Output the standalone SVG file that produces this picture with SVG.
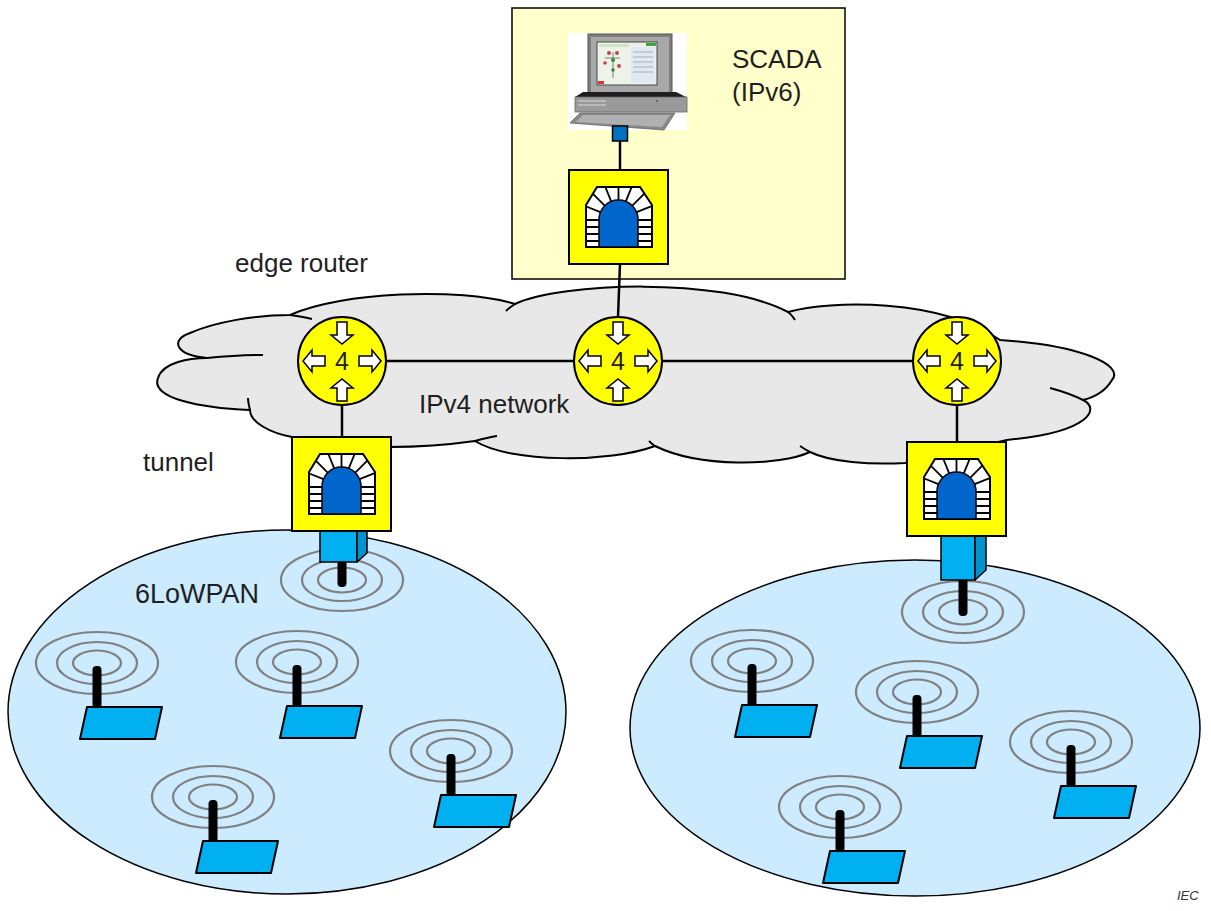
<svg xmlns="http://www.w3.org/2000/svg" width="1211" height="911" viewBox="0 0 1211 911">
  <style>
    .lbl { font-family: "Liberation Sans", Arial, sans-serif; font-size: 26px; fill: #1f1f1f; }
    .wire { stroke: #000; stroke-width: 2.5; fill: none; }
    .ring { fill: none; stroke: #808080; stroke-width: 2.2; }
    .lowpan { fill: #CCEBFF; stroke: #000; stroke-width: 1.5; }
    .crease { fill: none; stroke: #000; stroke-width: 2; }
  </style>
  <defs>
    <clipPath id="archClip" clipPathUnits="userSpaceOnUse">
      <polygon points="17,77 17,35 28,17 71,17 83,35 83,77"/>
    </clipPath>
    <!-- arrow pointing right, tip at origin -->
    <polygon id="arrow" points="-22,-5 -9,-5 -9,-11 0,0 -9,11 -9,5 -22,5" fill="#fff" stroke="#000" stroke-width="1.5" stroke-linejoin="miter"/>
    <g id="routerIcon">
      <circle r="44" fill="#FFFF00" stroke="#000" stroke-width="2"/>
      <use href="#arrow" transform="translate(39,0)"/>
      <use href="#arrow" transform="translate(-39,0) rotate(180)"/>
      <use href="#arrow" transform="translate(0,-17) rotate(90)"/>
      <use href="#arrow" transform="translate(0,18) rotate(-90)"/>
      <text x="0" y="9" text-anchor="middle" font-family="'Liberation Sans', Arial, sans-serif" font-size="25" fill="#1f1f1f">4</text>
    </g>
    <g id="tunnelIcon">
      <rect x="0" y="0" width="99" height="94" fill="#FFFF00" stroke="#000" stroke-width="2"/>
      <polygon points="17,77 17,35 28,17 71,17 83,35 83,77" fill="#fff"/>
      <g clip-path="url(#archClip)" stroke="#000" stroke-width="1.8">
        <line x1="67.6" y1="42.2" x2="86.6" y2="34.5"/>
        <line x1="63.3" y1="35.7" x2="77.8" y2="21.2"/>
        <line x1="56.8" y1="31.4" x2="64.5" y2="12.4"/>
        <line x1="49.5" y1="30" x2="49.5" y2="9.5"/>
        <line x1="42.2" y1="31.4" x2="34.5" y2="12.4"/>
        <line x1="35.7" y1="35.7" x2="21.2" y2="21.2"/>
        <line x1="31.4" y1="42.2" x2="12.4" y2="34.5"/>
        <line x1="10" y1="50" x2="90" y2="50"/>
        <line x1="10" y1="57" x2="90" y2="57"/>
        <line x1="10" y1="64" x2="90" y2="64"/>
        <line x1="10" y1="71" x2="90" y2="71"/>
      </g>
      <polygon points="17,77 17,35 28,17 71,17 83,35 83,77" fill="none" stroke="#000" stroke-width="2"/>
      <path d="M30,77 V49.5 A19.5,19.5 0 0 1 69,49.5 V77 Z" fill="#0066CC" stroke="#000" stroke-width="1.5"/>
    </g>
    <g id="rings">
      <ellipse rx="61" ry="31" class="ring"/>
      <ellipse rx="40" ry="21" class="ring"/>
      <ellipse rx="24" ry="12.5" class="ring"/>
    </g>
    <g id="sensorIcon">
      <use href="#rings"/>
      <rect x="-4.5" y="3" width="9" height="43" rx="4" fill="#000"/>
      <polygon points="-10,44 65,44 58,76 -17,76" fill="#00B0F0" stroke="#000" stroke-width="2" stroke-linejoin="round"/>
    </g>
  </defs>

  <rect width="1211" height="911" fill="#fff"/>

  <!-- SCADA station -->
  <g id="scada">
    <rect x="512" y="8" width="333" height="271" fill="#FFFFCC" stroke="#000" stroke-width="1.5"/>
    <g id="workstation">
      <rect x="568" y="33" width="119" height="97" fill="#fff"/>
      <!-- monitor -->
      <rect x="588" y="34" width="84" height="62" fill="#7e7e7e" stroke="#555" stroke-width="1"/>
      <rect x="591" y="37" width="78" height="56" fill="#a8a8a8"/>
      <rect x="597" y="42" width="60" height="43" fill="#eef3ea" stroke="#444" stroke-width="1"/>
      <rect x="599" y="44" width="30" height="3" fill="#cfe3c8"/>
      <rect x="646" y="43" width="10" height="3" fill="#3fa33f"/>
      <rect x="631" y="47" width="24" height="36" fill="#e2e8ef"/>
      <line x1="633" y1="52" x2="653" y2="52" stroke="#9fb0c4" stroke-width="1"/>
      <line x1="633" y1="57" x2="653" y2="57" stroke="#9fb0c4" stroke-width="1"/>
      <line x1="633" y1="62" x2="653" y2="62" stroke="#9fb0c4" stroke-width="1"/>
      <line x1="633" y1="67" x2="653" y2="67" stroke="#9fb0c4" stroke-width="1"/>
      <line x1="633" y1="72" x2="653" y2="72" stroke="#9fb0c4" stroke-width="1"/>
      <line x1="613" y1="52" x2="613" y2="78" stroke="#6a8a6a" stroke-width="1"/>
      <line x1="605" y1="58" x2="620" y2="58" stroke="#6a8a6a" stroke-width="1"/>
      <circle cx="609" cy="53" r="2" fill="#d04040"/>
      <circle cx="617" cy="53" r="2" fill="#d04040"/>
      <circle cx="613" cy="60" r="2" fill="#3a8a3a"/>
      <circle cx="605" cy="63" r="1.8" fill="#d04040"/>
      <circle cx="619" cy="66" r="2" fill="#d04040"/>
      <circle cx="613" cy="70" r="1.8" fill="#3a8a3a"/>
      <rect x="598" y="81" width="6" height="3" fill="#e03030"/>
      <!-- base unit -->
      <polygon points="583,92 676,92 686,97 575,97" fill="#1e1e1e"/>
      <rect x="575" y="97" width="112" height="15" fill="#9a9a9a" stroke="#666" stroke-width="0.8"/>
      <line x1="578" y1="101" x2="606" y2="101" stroke="#d8d8d8" stroke-width="1"/>
      <line x1="578" y1="105" x2="606" y2="105" stroke="#d8d8d8" stroke-width="1"/>
      <circle cx="657" cy="101" r="1" fill="#555"/>
      <!-- keyboard -->
      <polygon points="580,113 675,113 664,130 570,123" fill="#8a8a8a" stroke="#666" stroke-width="0.8"/>
      <polygon points="583,115 670,115 662,127 576,122" fill="#b0b0b0"/>
    </g>
    <rect x="612.5" y="126" width="15" height="15" fill="#0070C0" stroke="#000" stroke-width="1.5"/>
    <text class="lbl" x="732" y="68">SCADA</text>
    <text class="lbl" x="732" y="101">(IPv6)</text>
  </g>

  <!-- IPv4 cloud -->
  <g id="ipv4-cloud">
    <path fill="#E8E8E8" stroke="#000" stroke-width="2" stroke-linejoin="round"
      d="M290,315 C340,292 460,287 515,304
         C560,283 720,276 788,312
         C830,300 940,298 1000,340
         C1080,345 1125,365 1112,380
         C1105,392 1095,397 1083,400
         C1100,408 1092,432 1007,440
         L905,463
         C870,465 830,462 810,452
         C780,466 700,468 655,446
         C610,463 510,463 475,441
         C440,446 410,447 389,447
         L292,437
         C270,433 250,422 250,410
         C200,408 150,398 158,378
         C163,362 190,358 207,358
         C175,355 170,340 190,333
         C215,322 255,315 290,315 Z"/>
    <path class="crease" d="M290,315 C298,316 305,317 312,319"/>
    <path class="crease" d="M506,311 C509,308 512,306 515,304"/>
    <path class="crease" d="M788,312 C791,314 793,317 795,320"/>
    <path class="crease" d="M1050,388 C1065,392 1075,396 1083,400"/>
    <path class="crease" d="M810,452 C806,450 803,448 800,446"/>
    <path class="crease" d="M655,446 C653,445 651,443 649,441"/>
    <path class="crease" d="M475,441 C482,439 490,437 497,436"/>
    <path class="crease" d="M250,410 C249,406 248,402 248,398"/>
    <path class="crease" d="M207,358 C228,356 246,355 263,355"/>
    <text class="lbl" x="419" y="413">IPv4 network</text>
  </g>

  <!-- 6LoWPAN areas -->
  <g id="lowpan-left">
    <ellipse class="lowpan" cx="287" cy="712" rx="279" ry="182"/>
    <text class="lbl" x="135" y="603" style="font-size:27px">6LoWPAN</text>
  </g>
  <g id="lowpan-right">
    <ellipse class="lowpan" cx="915" cy="728" rx="285" ry="168"/>
  </g>

  <!-- links -->
  <g id="connectors">
    <line class="wire" x1="620" y1="141" x2="620" y2="170"/>
    <line class="wire" x1="620" y1="264" x2="618" y2="317"/>
    <line class="wire" x1="386" y1="361" x2="574" y2="361"/>
    <line class="wire" x1="662" y1="361" x2="913" y2="361"/>
    <line class="wire" x1="342" y1="405" x2="342" y2="437"/>
    <line class="wire" x1="957" y1="405" x2="957" y2="442"/>
  </g>

  <!-- routers -->
  <g id="router-left"><use href="#routerIcon" transform="translate(342,361)"/></g>
  <g id="router-mid"><use href="#routerIcon" transform="translate(618,361)"/></g>
  <g id="router-right"><use href="#routerIcon" transform="translate(957,361)"/></g>

  <!-- gateway sensors fed by the tunnels -->
  <g id="gateway-left">
    <use href="#rings" transform="translate(342,580)"/>
    <rect x="337.5" y="555" width="9" height="32" rx="4" fill="#000"/>
    <rect x="320" y="528" width="37" height="34" fill="#00B0F0" stroke="#000" stroke-width="1.5"/>
    <polygon points="357,528 367,528 367,553 357,562" fill="#0093D0" stroke="#000" stroke-width="1.5" stroke-linejoin="round"/>
  </g>
  <g id="gateway-right">
    <use href="#rings" transform="translate(963,612)"/>
    <rect x="958.5" y="575" width="9" height="41" rx="4" fill="#000"/>
    <rect x="941" y="533" width="34" height="47" fill="#00B0F0" stroke="#000" stroke-width="1.5"/>
    <polygon points="975,533 986,533 986,570 975,580" fill="#0093D0" stroke="#000" stroke-width="1.5" stroke-linejoin="round"/>
  </g>

  <!-- tunnel endpoints -->
  <g id="tunnel-scada"><use href="#tunnelIcon" transform="translate(569,170)"/></g>
  <g id="tunnel-left"><use href="#tunnelIcon" transform="translate(292,437)"/></g>
  <g id="tunnel-right"><use href="#tunnelIcon" transform="translate(907,442)"/></g>

  <!-- field sensors -->
  <g id="sensor-l1"><use href="#sensorIcon" transform="translate(97,663)"/></g>
  <g id="sensor-l2"><use href="#sensorIcon" transform="translate(297,662)"/></g>
  <g id="sensor-l3"><use href="#sensorIcon" transform="translate(451,751)"/></g>
  <g id="sensor-l4"><use href="#sensorIcon" transform="translate(213,797)"/></g>
  <g id="sensor-r1"><use href="#sensorIcon" transform="translate(752,661)"/></g>
  <g id="sensor-r2"><use href="#sensorIcon" transform="translate(917,692)"/></g>
  <g id="sensor-r3"><use href="#sensorIcon" transform="translate(1071,742)"/></g>
  <g id="sensor-r4"><use href="#sensorIcon" transform="translate(840,807)"/></g>

  <!-- labels -->
  <text class="lbl" x="235" y="272">edge router</text>
  <text class="lbl" x="143" y="471">tunnel</text>
  <text x="1177" y="900" font-family="'Liberation Sans', Arial, sans-serif" font-size="13" font-style="italic" fill="#333">IEC</text>
</svg>
